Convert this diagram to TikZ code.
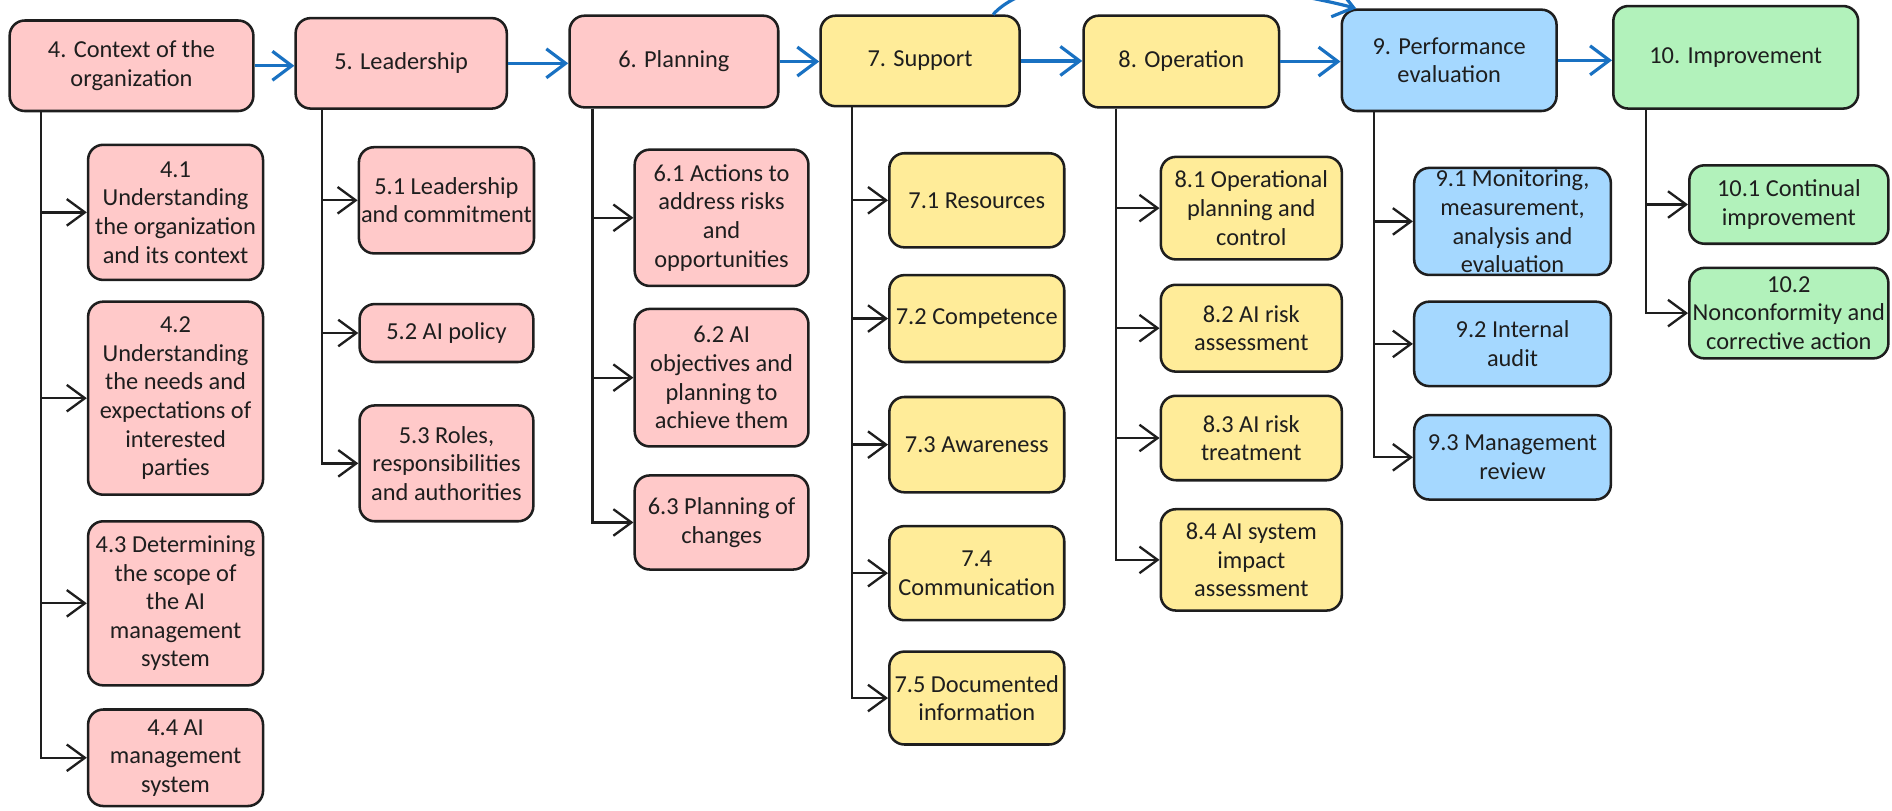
\documentclass[tikz,border=0pt]{standalone}
\usepackage{fontspec}
\setmainfont{Carlito}
\usepackage{xcolor}
\usepackage{tikz}
\usetikzlibrary{shapes, arrows.meta, positioning}

\definecolor{pinkbox}{HTML}{FFC9C9}
\definecolor{yellowbox}{HTML}{FFEC99}
\definecolor{bluebox}{HTML}{A5D8FF}
\definecolor{greenbox}{HTML}{B2F2BB}
\definecolor{inkline}{HTML}{1E1E1E}
\definecolor{flowblue}{HTML}{1971C2}

\begin{document}
\begin{tikzpicture}[x=0.02cm, y=-0.02cm,
    clause/.style={draw=inkline, line width=1.2pt, rounded corners=0.25cm, align=center,
        inner sep=1pt, font=\fontsize{11.5}{13.5}\selectfont, text=inkline},
    pinkclause/.style={clause, fill=pinkbox},
    yellowclause/.style={clause, fill=yellowbox},
    blueclause/.style={clause, fill=bluebox},
    greenclause/.style={clause, fill=greenbox},
    flow/.style={draw=flowblue, line width=1.5pt, -{Straight Barb[length=3.2mm, width=4.8mm]}},
    branch/.style={draw=inkline, line width=1.1pt, -{Straight Barb[length=3mm, width=4.4mm]}}]
    \useasboundingbox (0,0) rectangle (1568,672);
    \clip (0,0) rectangle (1568,672);

    % main clauses
    \node[pinkclause, minimum width=4.04cm, minimum height=1.50cm] (p4) at (109,54.5) {4. Context of the\\organization};
    \node[pinkclause, minimum width=3.50cm, minimum height=1.50cm] (p5) at (332.5,52.5) {5. Leadership};
    \node[pinkclause, minimum width=3.46cm, minimum height=1.52cm] (p6) at (558.5,51) {6. Planning};
    \node[yellowclause, minimum width=3.30cm, minimum height=1.50cm] (p7) at (762.5,50.5) {7. Support};
    \node[yellowclause, minimum width=3.24cm, minimum height=1.52cm] (p8) at (979,51) {8. Operation};
    \node[blueclause, minimum width=3.56cm, minimum height=1.68cm] (p9) at (1201,50) {9. Performance\\evaluation};
    \node[greenclause, minimum width=4.06cm, minimum height=1.70cm] (p10) at (1438.5,47.5) {10. Improvement};

    % sub-clauses
    \node[pinkclause, minimum width=2.90cm, minimum height=2.24cm] (c41) at (145.5,176) {4.1\\Understanding\\the organization\\and its context};
    \node[pinkclause, minimum width=2.90cm, minimum height=3.20cm] (c42) at (145.5,330) {4.2\\Understanding\\the needs and\\expectations of\\interested\\parties};
    \node[pinkclause, minimum width=2.90cm, minimum height=2.72cm] (c43) at (145.5,500) {4.3 Determining\\the scope of\\the AI\\management\\system};
    \node[pinkclause, minimum width=2.90cm, minimum height=1.60cm] (c44) at (145.5,628) {4.4 AI\\management\\system};

    \node[pinkclause, minimum width=2.88cm, minimum height=1.76cm] (c51) at (370,166) {5.1 Leadership\\and commitment};
    \node[pinkclause, minimum width=2.88cm, minimum height=0.96cm] (c52) at (370,276) {5.2 AI policy};
    \node[pinkclause, minimum width=2.88cm, minimum height=1.92cm] (c53) at (370,384) {5.3 Roles,\\responsibilities\\and authorities};

    \node[pinkclause, minimum width=2.88cm, minimum height=2.26cm] (c61) at (598,180.5) {6.1 Actions to\\address risks\\and\\opportunities};
    \node[pinkclause, minimum width=2.88cm, minimum height=2.28cm] (c62) at (598,313) {6.2 AI\\objectives and\\planning to\\achieve them};
    \node[pinkclause, minimum width=2.88cm, minimum height=1.56cm] (c63) at (598,433) {6.3 Planning of\\changes};

    \node[yellowclause, minimum width=2.90cm, minimum height=1.56cm] (c71) at (809.5,166) {7.1 Resources};
    \node[yellowclause, minimum width=2.90cm, minimum height=1.44cm] (c72) at (809.5,264) {7.2 Competence};
    \node[yellowclause, minimum width=2.90cm, minimum height=1.58cm] (c73) at (809.5,368.5) {7.3 Awareness};
    \node[yellowclause, minimum width=2.90cm, minimum height=1.56cm] (c74) at (809.5,475) {7.4\\Communication};
    \node[yellowclause, minimum width=2.90cm, minimum height=1.54cm] (c75) at (809.5,578.5) {7.5 Documented\\information};

    \node[yellowclause, minimum width=3.00cm, minimum height=1.70cm] (c81) at (1037,172.5) {8.1 Operational\\planning and\\control};
    \node[yellowclause, minimum width=3.00cm, minimum height=1.44cm] (c82) at (1037,272) {8.2 AI risk\\assessment};
    \node[yellowclause, minimum width=3.00cm, minimum height=1.40cm] (c83) at (1037,363) {8.3 AI risk\\treatment};
    \node[yellowclause, minimum width=3.00cm, minimum height=1.68cm] (c84) at (1037,464) {8.4 AI system\\impact\\assessment};

    \node[blueclause, minimum width=3.26cm, minimum height=1.74cm] (c91) at (1253.5,183.5) {9.1 Monitoring,\\measurement,\\analysis and\\evaluation};
    \node[blueclause, minimum width=3.26cm, minimum height=1.40cm] (c92) at (1253.5,285) {9.2 Internal\\audit};
    \node[blueclause, minimum width=3.26cm, minimum height=1.40cm] (c93) at (1253.5,379) {9.3 Management\\review};

    \node[greenclause, minimum width=3.30cm, minimum height=1.30cm] (c101) at (1482.5,169.5) {10.1 Continual\\improvement};
    \node[greenclause, minimum width=3.30cm, minimum height=1.50cm] (c102) at (1482.5,259.5) {10.2\\Nonconformity and\\corrective action};

    % trunk tops
    \coordinate (t4) at ([xshift=0.54cm]p4.south west);
    \coordinate (t5) at ([xshift=0.46cm]p5.south west);
    \coordinate (t6) at ([xshift=0.40cm]p6.south west);
    \coordinate (t7) at ([xshift=0.54cm]p7.south west);
    \coordinate (t8) at ([xshift=0.56cm]p8.south west);
    \coordinate (t9) at ([xshift=0.56cm]p9.south west);
    \coordinate (t10) at ([xshift=0.56cm]p10.south west);

    % clause to sub-clause
    \foreach \c in {c41,c42,c43,c44} \draw[branch] (t4) |- (\c);
    \foreach \c in {c51,c52,c53} \draw[branch] (t5) |- (\c);
    \foreach \c in {c61,c62,c63} \draw[branch] (t6) |- (\c);
    \foreach \c in {c71,c72,c73,c74,c75} \draw[branch] (t7) |- (\c);
    \foreach \c in {c81,c82,c83,c84} \draw[branch] (t8) |- (\c);
    \foreach \c in {c91,c92,c93} \draw[branch] (t9) |- (\c);
    \foreach \c in {c101,c102} \draw[branch] (t10) |- (\c);

    % clause sequence
    \draw[flow] (p4.east) -- (p4.east -| p5.west);
    \draw[flow] (p5.east) -- (p5.east -| p6.west);
    \draw[flow] (p6.east) -- (p6.east -| p7.west);
    \draw[flow] (p7.east) -- (p7.east -| p8.west);
    \draw[flow] (p8.east) -- (p8.east -| p9.west);
    \draw[flow] (p9.east) -- (p9.east -| p10.west);
    \draw[flow] ([xshift=-0.46cm]p7.north east) .. controls (870,-40) and (1060,-10) .. ([xshift=0.26cm]p9.north west);
\end{tikzpicture}
\end{document}
